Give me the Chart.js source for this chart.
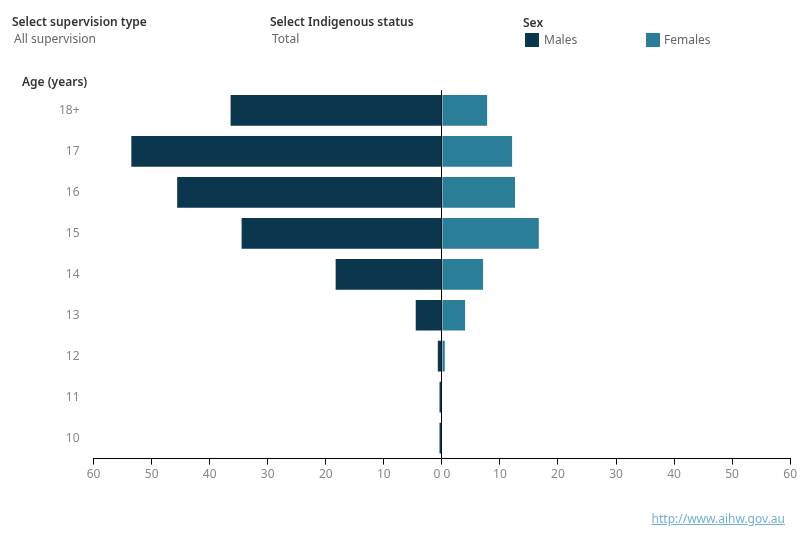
<!DOCTYPE html>
<html>
<head>
<meta charset="utf-8">
<script src="https://cdn.jsdelivr.net/npm/chart.js@4"></script>
<style>
  body { margin: 0; background: #fff; font-family: "Noto Sans", sans-serif; }
  #wrap { position: relative; width: 800px; height: 550px; overflow: hidden; }
  #chart { position: absolute; left: 0; top: 0; }
  .t { position: absolute; white-space: nowrap; font-size: 12px; }
  .head { color: #333; font-weight: 600; }
  .val { color: #666; }
  .sw { position: absolute; width: 14px; height: 14px; }
  a.src { position: absolute; right: 15px; top: 510px; font-size: 12px; color: #6fb0d3; }
</style>
</head>
<body>
<div id="wrap">
  <canvas id="chart" width="800" height="550"></canvas>
  <div class="t head" style="left:12px;top:13px;">Select supervision type</div>
  <div class="t val" style="left:14px;top:30px;">All supervision</div>
  <div class="t head" style="left:270px;top:13px;">Select Indigenous status</div>
  <div class="t val" style="left:272px;top:30px;">Total</div>
  <div class="t head" style="left:523px;top:14px;">Sex</div>
  <div class="sw" style="left:525px;top:33px;background:#0b374e;"></div>
  <div class="t val" style="left:544px;top:31px;">Males</div>
  <div class="sw" style="left:646px;top:33px;background:#2a7e97;"></div>
  <div class="t val" style="left:664px;top:31px;">Females</div>
  <div class="t head" style="left:22px;top:73px;">Age (years)</div>
  <a class="src" href="http://www.aihw.gov.au">http://www.aihw.gov.au</a>
</div>
<script>
// age groups, top to bottom
var ages = ['18+', '17', '16', '15', '14', '13', '12', '11', '10'];
// rates per 10,000
var males = [36.4, 53.5, 45.6, 34.5, 18.3, 4.5, 0.7, 0.4, 0.4];
var females = [7.8, 12.1, 12.6, 16.7, 7.1, 4.0, 0.5, 0, 0];
var xTicks = [-60, -50, -40, -30, -20, -10, 0, 10, 20, 30, 40, 50, 60];

var ctx = document.getElementById('chart').getContext('2d');
new Chart(ctx, {
  type: 'bar',
  data: {
    labels: ages,
    datasets: [
      {
        label: 'Males',
        data: males.map(function (v) { return -v; }),
        backgroundColor: '#0b374e',
        barPercentage: 0.75,
        categoryPercentage: 1
      },
      {
        label: 'Females',
        data: females,
        backgroundColor: '#2a7e97',
        barPercentage: 0.75,
        categoryPercentage: 1
      }
    ]
  },
  options: {
    indexAxis: 'y',
    responsive: false,
    animation: false,
    layout: { padding: { top: 90, left: 53, right: 6, bottom: 65 } },
    plugins: { legend: { display: false }, tooltip: { enabled: false } },
    scales: {
      x: {
        stacked: true,
        min: -60,
        max: 60,
        afterBuildTicks: function (axis) {
          axis.ticks = xTicks.map(function (v) { return { value: v }; });
        },
        ticks: {
          color: '#888',
          font: { family: 'Noto Sans', size: 12 },
          maxRotation: 0,
          padding: 3,
          callback: function (v) { return v === 0 ? '0 0' : Math.abs(v); }
        },
        grid: {
          color: function (c) { return c.tick && c.tick.value === 0 ? '#000' : 'rgba(0,0,0,0)'; },
          tickColor: '#000',
          tickLength: 6,
          lineWidth: 1
        },
        border: { display: true, color: '#000', width: 1 }
      },
      y: {
        stacked: true,
        ticks: {
          color: '#888',
          font: { family: 'Noto Sans', size: 12 },
          padding: 6
        },
        grid: { display: false },
        border: { display: false }
      }
    }
  }
});
</script>
</body>
</html>
